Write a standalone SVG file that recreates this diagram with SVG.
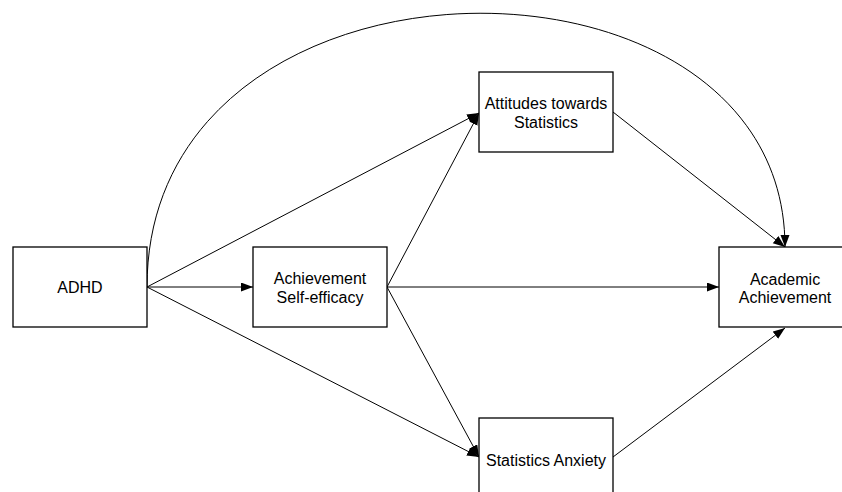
<svg xmlns="http://www.w3.org/2000/svg" width="842" height="492" viewBox="0 0 842 492">
<style>
.box{fill:#fff;stroke:#000;stroke-width:1.3}
.lbl{font-family:"Liberation Sans",Arial,sans-serif;font-size:16px;fill:#000;text-anchor:middle}
.edge{fill:none;stroke:#000;stroke-width:1;marker-end:url(#ah)}
</style>
<defs>
<marker id="ah" markerUnits="userSpaceOnUse" markerWidth="13" markerHeight="10" refX="12" refY="4.5" orient="auto">
<path d="M0,0 L12,4.5 L0,9 z" fill="#000"/>
</marker>
</defs>
<rect width="842" height="492" fill="#fff"/>
<g id="connectors">
<path class="edge" d="M147,287 L253,287"/>
<path class="edge" d="M147,287 L479,113"/>
<path class="edge" d="M147,287 L479,457"/>
<path class="edge" d="M387,287 L479,113"/>
<path class="edge" d="M387,287 L479,457"/>
<path class="edge" d="M387,287 L719,287"/>
<path class="edge" d="M613,112 L785,247"/>
<path class="edge" d="M613,457 L785,328"/>
<path class="edge" d="M147,287 C147,-70 785,-72 785,247"/>
</g>
<g id="adhd">
<rect class="box" x="13" y="247" width="134" height="80"/>
<text class="lbl" x="80" y="293">ADHD</text>
</g>
<g id="self-efficacy">
<rect class="box" x="253" y="247" width="134" height="80"/>
<text class="lbl" x="320" y="284">Achievement</text>
<text class="lbl" x="320" y="303">Self-efficacy</text>
</g>
<g id="attitudes">
<rect class="box" x="479" y="72" width="134" height="80"/>
<text class="lbl" x="546" y="109">Attitudes towards</text>
<text class="lbl" x="546" y="128">Statistics</text>
</g>
<g id="anxiety">
<rect class="box" x="479" y="418" width="134" height="80"/>
<text class="lbl" x="546" y="466">Statistics Anxiety</text>
</g>
<g id="academic">
<rect class="box" x="719" y="247" width="134" height="80"/>
<text class="lbl" x="785" y="285">Academic</text>
<text class="lbl" x="785" y="303">Achievement</text>
</g>
</svg>
